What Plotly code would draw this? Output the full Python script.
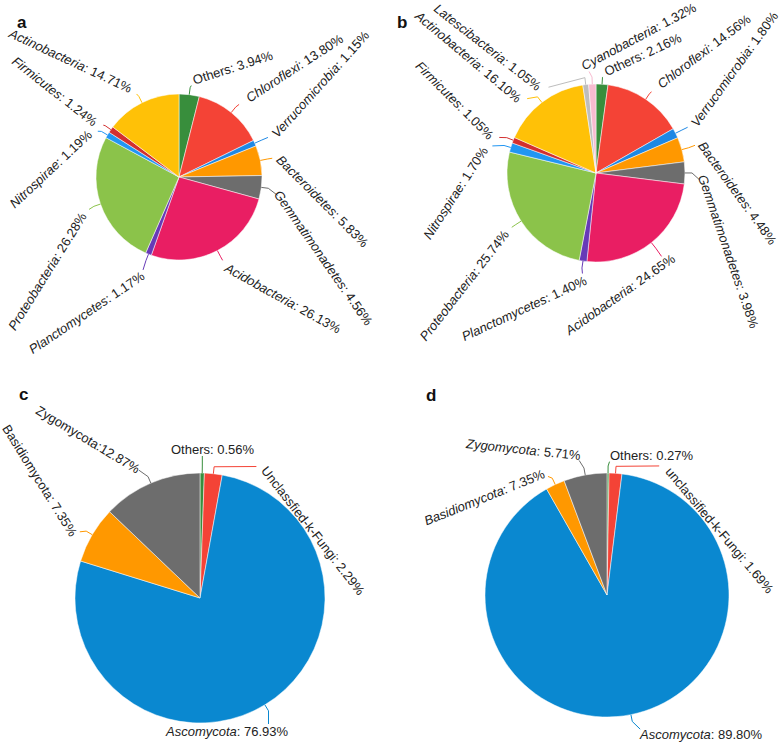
import math

import plotly.graph_objects as go

W, H = 784, 744

# ---- data (clockwise from 12 o'clock) ----
a_names = ["Others", "Chloroflexi", "Verrucomicrobia", "Bacteroidetes", "Gemmatimonadetes",
           "Acidobacteria", "Planctomycetes", "Proteobacteria", "Nitrospirae", "Firmicutes",
           "Actinobacteria"]
a_pct = [3.94, 13.80, 1.15, 5.83, 4.56, 26.13, 1.17, 26.28, 1.19, 1.24, 14.71]

b_names = ["Others", "Chloroflexi", "Verrucomicrobia", "Bacteroidetes", "Gemmatimonadetes",
           "Acidobacteria", "Planctomycetes", "Proteobacteria", "Nitrospirae", "Firmicutes",
           "Actinobacteria", "Latescibacteria", "Cyanobacteria"]
b_pct = [2.16, 14.56, 1.80, 4.48, 3.98, 24.65, 1.40, 25.74, 1.70, 1.05, 16.10, 1.05, 1.32]

c_names = ["Others", "Unclassfied-k-Fungi", "Ascomycota", "Basidiomycota", "Zygomycota"]
c_pct = [0.56, 2.29, 76.93, 7.35, 12.87]

d_names = ["Others", "unclassified-k-Fungi", "Ascomycota", "Basidiomycota", "Zygomycota"]
d_pct = [0.27, 1.69, 89.80, 7.35, 5.71]      # as printed
d_share = [0.27, 1.69, 89.80, 2.53, 5.71]    # slice sizes as drawn

bact_colors = ["#388e3c", "#f44336", "#1e88e5", "#ff9800", "#6d6d6d", "#e91e63",
               "#673ab7", "#8bc34a", "#2196f3", "#d32f2f", "#ffc107", "#bdbdbd", "#f8bbd0"]
fungi_colors = ["#388e3c", "#f44336", "#0a88d0", "#ff9800", "#6d6d6d"]

# ---- layout of each panel: pie centre/radius (px) and label centre + angle (px, deg) ----
panels = [
    dict(letter="a", names=a_names, pct=a_pct, share=a_pct, colors=bact_colors,
         center=(179, 177), r=83, letter_xy=(15, 11),
         italic=set(a_names) - {"Others"},
         labels=[(233, 67, -18), (294, 68, -33), (320, 84, -48), (323, 201, 45), (324, 258, 55),
                 (283, 298, 29), (87, 313, -34), (47, 271, -58), (50, 169, -43), (55, 91, 38),
                 (70, 60, 25)]),
    dict(letter="b", names=b_names, pct=b_pct, share=b_pct, colors=bact_colors,
         center=(596, 173), r=89, letter_xy=(402, 11),
         italic=set(b_names) - {"Others"},
         labels=[(643, 54, -25), (704, 52, -37), (734, 69, -54), (738, 193, 54), (728, 252, 71),
                 (620, 294, -35), (524, 308, -25), (464, 285, -52), (455, 193, -57), (455, 100, 45),
                 (468, 56, 40), (488, 47, 38), (639, 37, -28)]),
    dict(letter="c", names=c_names, pct=c_pct, share=c_pct, colors=fungi_colors,
         center=(200, 598), r=125, letter_xy=(17, 394),
         italic={"Ascomycota"},
         labels=[(213, 449, 0), (313, 530, 52), (227, 731, 0), (40, 480, 58), (88, 439, 31)]),
    dict(letter="d", names=d_names, pct=d_pct, share=d_share, colors=fungi_colors,
         center=(607, 595), r=122, letter_xy=(431, 395),
         italic={"Ascomycota", "Basidiomycota", "Zygomycota"},
         labels=[(652, 455, 0), (720, 530, 50), (701, 734, 0), (484, 497, -22), (523, 449, 6)]),
]

FONT = "Liberation Sans, Arial, sans-serif"
CHAR_W = 6.2


def px(x, y):
    return x / W, 1 - y / H


fig = go.Figure()
annotations = []
shapes = []

for p in panels:
    cx, cy = p["center"]
    r = p["r"]
    fig.add_trace(go.Pie(
        labels=p["names"], values=p["share"], sort=False, direction="clockwise", rotation=0,
        marker=dict(colors=p["colors"][:len(p["names"])], line=dict(color="white", width=0.5)),
        textinfo="none", hoverinfo="label+percent", showlegend=False,
        domain=dict(x=[(cx - r) / W, (cx + r) / W], y=[1 - (cy + r) / H, 1 - (cy - r) / H]),
    ))

    lx, ly = px(*p["letter_xy"])
    annotations.append(dict(x=lx, y=ly, xref="paper", yref="paper", text="<b>%s</b>" % p["letter"],
                            showarrow=False, font=dict(size=17, color="#111", family=FONT)))

    total = sum(p["share"])
    cum = 0.0
    for name, pct, share, col, (tx, ty, ang) in zip(p["names"], p["pct"], p["share"],
                                                    p["colors"], p["labels"]):
        mid = (cum + share / 2) / total * 2 * math.pi
        cum += share
        ux, uy = math.sin(mid), -math.cos(mid)
        p0 = (cx + r * ux, cy + r * uy)
        p1 = (cx + (r + 7) * ux, cy + (r + 7) * uy)

        sep = ":" if (p["letter"] == "c" and name == "Zygomycota") else ": "
        label = ("<i>%s</i>" % name if name in p["italic"] else name) + "%s%.2f%%" % (sep, pct)
        n = len(name) + len(sep) + len("%.2f%%" % pct)
        half = n * CHAR_W / 2
        dx, dy = math.cos(math.radians(ang)), math.sin(math.radians(ang))
        # closest point on the text line to the leader elbow
        t = (p1[0] - tx) * dx + (p1[1] - ty) * dy
        t = max(-half, min(half, t))
        qx, qy = tx + t * dx, ty + t * dy
        vx, vy = p1[0] - qx, p1[1] - qy
        dist = math.hypot(vx, vy) or 1.0
        step = min(7, dist)
        e = (qx + vx / dist * step, qy + vy / dist * step)

        path = "M %f %f L %f %f L %f %f" % (*px(*p0), *px(*p1), *px(*e))
        shapes.append(dict(type="path", path=path, xref="paper", yref="paper",
                           line=dict(color=col, width=1)))

        ax, ay = px(tx, ty)
        annotations.append(dict(x=ax, y=ay, xref="paper", yref="paper", text=label, textangle=ang,
                                showarrow=False, xanchor="center", yanchor="middle",
                                font=dict(size=13, color="#222", family=FONT)))

fig.update_layout(
    width=W, height=H,
    margin=dict(l=0, r=0, t=0, b=0),
    paper_bgcolor="white", plot_bgcolor="white",
    annotations=annotations, shapes=shapes,
)

fig.write_html("out.html", config={"displayModeBar": False},
               post_script="document.body.style.margin='0';")
